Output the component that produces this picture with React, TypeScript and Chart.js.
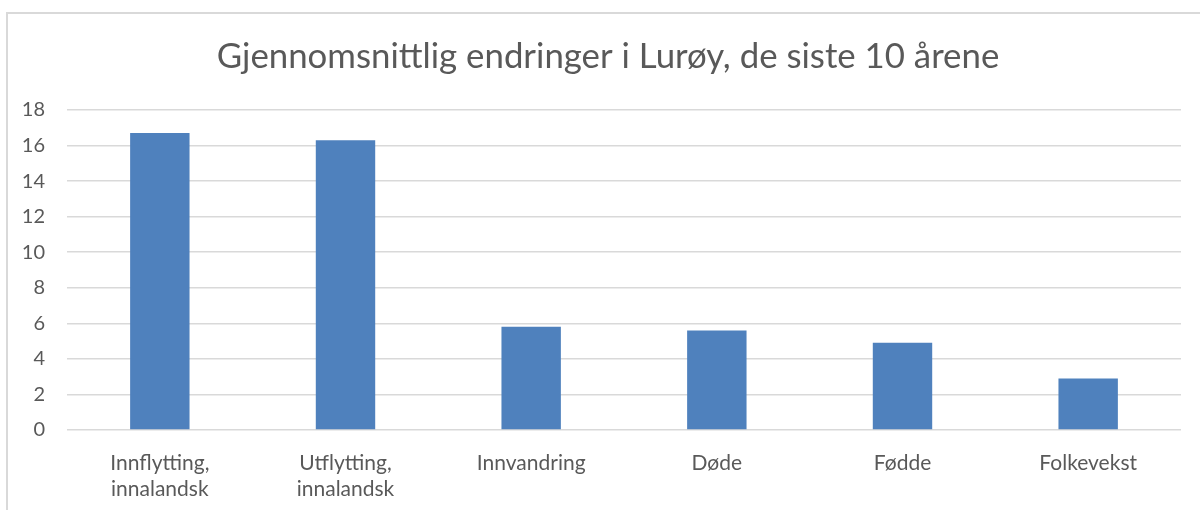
import React, { useEffect, useRef } from "react";
import { Chart, registerables } from "chart.js";

Chart.register(...registerables);

const TITLE = "Gjennomsnittlig endringer i Lurøy, de siste 10 årene";
const categories: string[][] = [
  ["Innflytting,", "innalandsk"],
  ["Utflytting,", "innalandsk"],
  ["Innvandring"],
  ["Døde"],
  ["Fødde"],
  ["Folkevekst"],
];
const values: number[] = [16.7, 16.3, 5.8, 5.6, 4.9, 2.9];
const yMin = 0;
const yMax = 18;
const yStep = 2;

const FONT = "Lato, 'Open Sans', sans-serif";
const TEXT = "#595959";
const GRID = "#d9d9d9";
const BAR = "#4f81bd";

const framePlugin = {
  id: "frame",
  beforeDraw(chart: any) {
    const ctx = chart.ctx;
    ctx.save();
    ctx.strokeStyle = GRID;
    ctx.lineWidth = 2;
    ctx.beginPath();
    ctx.moveTo(6, 13);
    ctx.lineTo(chart.width, 13);
    ctx.moveTo(7, 12);
    ctx.lineTo(7, chart.height);
    ctx.stroke();
    ctx.restore();
  },
};

const titlePlugin = {
  id: "centeredTitle",
  afterDraw(chart: any) {
    const ctx = chart.ctx;
    ctx.save();
    ctx.fillStyle = TEXT;
    ctx.font = `normal 34.8px ${FONT}`;
    ctx.textAlign = "center";
    ctx.textBaseline = "middle";
    ctx.fillText(TITLE, 608, 57);
    ctx.restore();
  },
};

export default function App() {
  const ref = useRef<HTMLCanvasElement | null>(null);
  useEffect(() => {
    if (!ref.current) return;
    const chart = new Chart(ref.current, {
      type: "bar",
      data: {
        labels: categories as any,
        datasets: [
          {
            data: values,
            backgroundColor: BAR,
            borderWidth: 0,
            barPercentage: 0.32,
            categoryPercentage: 1,
          },
        ],
      },
      options: {
        animation: false,
        responsive: false,
        maintainAspectRatio: false,
        layout: { padding: { left: 7, right: 19, top: 110, bottom: -12 } },
        plugins: {
          legend: { display: false },
          tooltip: { enabled: false },
          title: { display: false },
        },
        scales: {
          x: {
            grid: { display: false, drawTicks: false },
            border: { display: false },
            ticks: {
              color: TEXT,
              font: { family: FONT, size: 21, lineHeight: 1.24 },
              padding: 20,
              maxRotation: 0,
              autoSkip: false,
            },
          },
          y: {
            min: yMin,
            max: yMax,
            afterFit: (s: any) => {
              s.width = 60;
            },
            grid: { color: GRID, lineWidth: 1.5, drawTicks: false },
            border: { display: false },
            ticks: {
              stepSize: yStep,
              color: TEXT,
              font: { family: FONT, size: 20 },
              padding: 22,
            },
          },
        },
      },
      plugins: [framePlugin, titlePlugin],
    });
    return () => chart.destroy();
  }, []);
  return (
    <div style={{ position: "fixed", left: 0, top: 0, width: 1200, height: 510, background: "#fff" }}>
      <canvas ref={ref} width={1200} height={510} style={{ width: 1200, height: 510 }} />
    </div>
  );
}
